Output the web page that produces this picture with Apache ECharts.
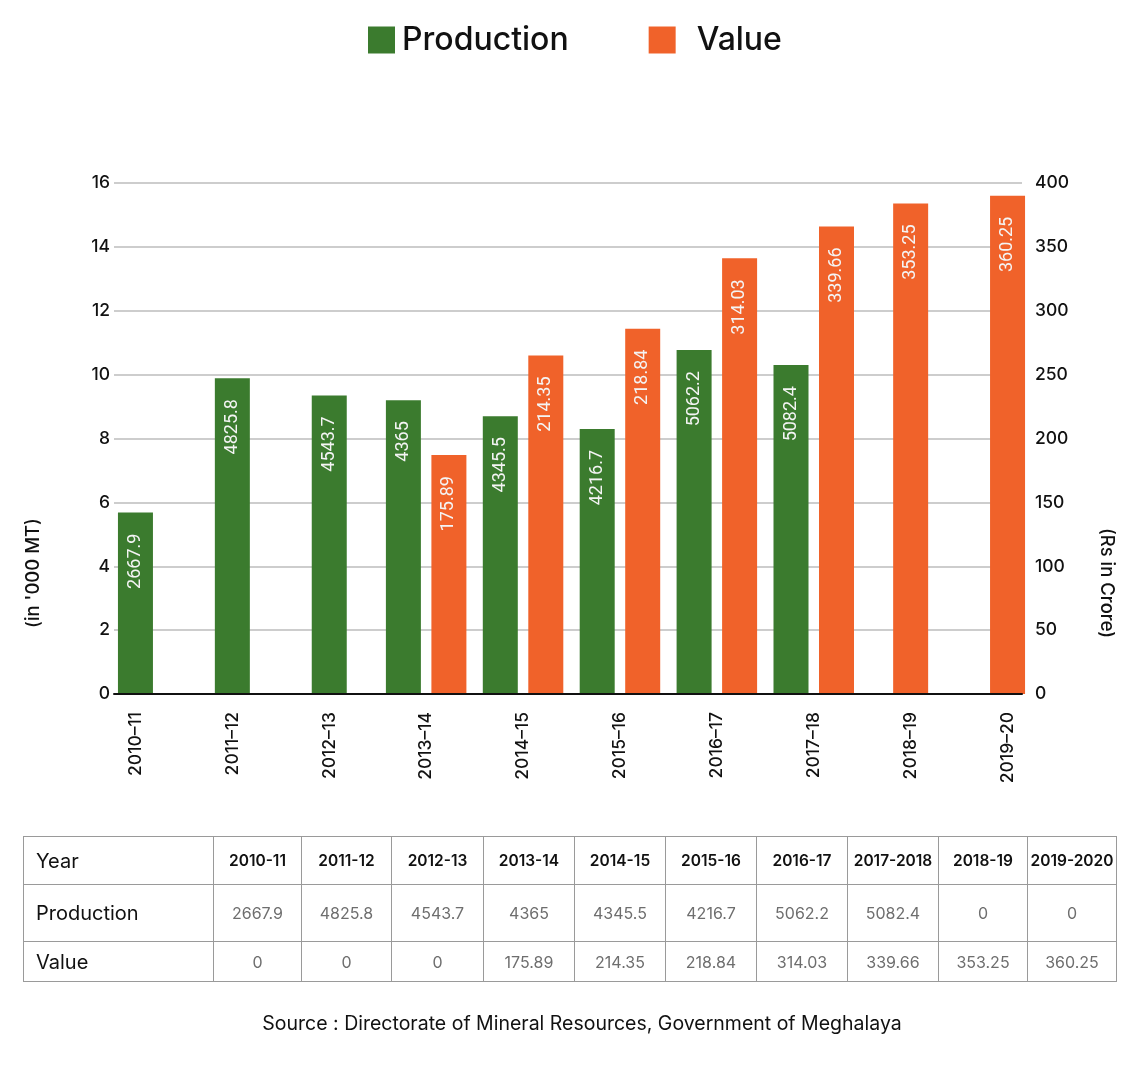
<!DOCTYPE html>
<html>
<head>
<meta charset="utf-8">
<script src="https://cdn.jsdelivr.net/npm/echarts@6.0.0/dist/echarts.min.js"></script>
<style>
  html, body { margin: 0; padding: 0; background: #fff; }
  #wrap { position: relative; width: 1140px; height: 1066px; }
  #chart { position: absolute; left: 0; top: 0; width: 1140px; height: 1066px; }
  #tbl { position: absolute; left: 23px; top: 836px; border-collapse: collapse; font-family: Inter, 'Noto Sans', sans-serif; table-layout: fixed; }
  #tbl td { border: 1px solid #9a9a9a; padding: 0; text-align: center; color: #6e6e6e; font-size: 16px; }
  #tbl td.rowhead { text-align: left; padding-left: 12px; color: #111; font-size: 20px; }
  #tbl tr.hdr td { color: #111; font-weight: 600; font-size: 15.5px; }
  #tbl tr.hdr td.rowhead { font-weight: 400; font-size: 20px; }
</style>
</head>
<body>
<div id="wrap">
  <div id="chart"></div>
  <table id="tbl"></table>
</div>
<script>
// ---- data ----
const categories = ['2010–11', '2011–12', '2012–13', '2013–14', '2014–15', '2015–16', '2016–17', '2017–18', '2018–19', '2019–20'];
const tableYears = ['2010-11', '2011-12', '2012-13', '2013-14', '2014-15', '2015-16', '2016-17', '2017-2018', '2018-19', '2019-2020'];
const productionValues = [2667.9, 4825.8, 4543.7, 4365, 4345.5, 4216.7, 5062.2, 5082.4, 0, 0];
const valueValues = [0, 0, 0, 175.89, 214.35, 218.84, 314.03, 339.66, 353.25, 360.25];
// bar heights as drawn in the picture (left axis for production, right axis for value)
const productionBarHeight = [5.68, 9.89, 9.35, 9.20, 8.70, 8.30, 10.77, 10.30, 0, 0];
const valueBarHeight = [0, 0, 0, 187, 265, 286, 341, 366, 384, 390];
const leftTicks = { min: 0, max: 16, interval: 2 };
const rightTicks = { min: 0, max: 400, interval: 50 };

const FONT = "Inter, 'Noto Sans', sans-serif";
const GREEN = '#3b7b2e';
const ORANGE = '#f0622a';

// ---- table ----
(function buildTable() {
  const widths = [190, 88, 90, 92, 91, 91, 91, 91, 91, 89, 89];
  const tbl = document.getElementById('tbl');
  const cg = document.createElement('colgroup');
  widths.forEach(w => { const c = document.createElement('col'); c.style.width = w + 'px'; cg.appendChild(c); });
  tbl.appendChild(cg);
  const rows = [
    { head: 'Year', cells: tableYears, cls: 'hdr', h: 48 },
    { head: 'Production', cells: productionValues.map(String), cls: '', h: 57 },
    { head: 'Value', cells: valueValues.map(String), cls: '', h: 40 }
  ];
  rows.forEach(r => {
    const tr = document.createElement('tr');
    if (r.cls) tr.className = r.cls;
    tr.style.height = r.h + 'px';
    const th = document.createElement('td');
    th.className = 'rowhead';
    th.textContent = r.head;
    tr.appendChild(th);
    r.cells.forEach(t => { const td = document.createElement('td'); td.textContent = t; tr.appendChild(td); });
    tbl.appendChild(tr);
  });
  tbl.style.width = widths.reduce((a, b) => a + b, 0) + 'px';
})();

// ---- chart ----
const paired = categories.map((c, i) => productionBarHeight[i] > 0 && valueBarHeight[i] > 0);
const pairProd = productionBarHeight.map((v, i) => paired[i] ? v : null);
const pairVal = valueBarHeight.map((v, i) => paired[i] ? v : null);
const soloProd = productionBarHeight.map((v, i) => (!paired[i] && v > 0) ? v : null);
const soloVal = valueBarHeight.map((v, i) => (!paired[i] && v > 0) ? v : null);

function barLabel(texts) {
  return {
    show: true,
    position: 'insideTop',
    rotate: 90,
    align: 'right',
    verticalAlign: 'middle',
    distance: 21,
    color: '#f4f4f4',
    fontSize: 18,
    fontFamily: 'Roboto, sans-serif',
    formatter: p => String(texts[p.dataIndex])
  };
}

const chart = echarts.init(document.getElementById('chart'), null, { renderer: 'canvas' });
chart.setOption({
  animation: false,
  backgroundColor: '#fff',
  textStyle: { fontFamily: FONT },
  legend: {
    left: 363, top: 19,
    itemWidth: 27, itemHeight: 27, itemGap: 80,
    icon: 'rect',
    data: [
      { name: 'Production', textStyle: { padding: [0, 0, 0, 2] } },
      { name: 'Value', textStyle: { padding: [0, 0, 0, 16] } }
    ],
    textStyle: { fontSize: 32, color: '#111', fontFamily: FONT, fontWeight: 500 }
  },
  grid: [
    { left: 87, right: 84, top: 183, bottom: 372 },
    { left: 114, right: 118, top: 183, bottom: 372 }
  ],
  xAxis: [
    {
      type: 'category', gridIndex: 0, data: categories,
      axisLine: { show: false }, axisTick: { show: false },
      axisLabel: { rotate: 90, margin: 18, fontSize: 17.5, fontWeight: 500, color: '#111', fontFamily: FONT }
    },
    { type: 'category', gridIndex: 0, data: categories, show: false },
    {
      type: 'category', gridIndex: 1, data: categories, z: 5,
      axisLine: { show: true, lineStyle: { color: '#111', width: 2 } },
      axisTick: { show: false }, axisLabel: { show: false }
    }
  ],
  yAxis: [
    { type: 'value', gridIndex: 0, min: leftTicks.min, max: leftTicks.max, show: false },
    { type: 'value', gridIndex: 0, min: rightTicks.min, max: rightTicks.max, show: false },
    {
      type: 'value', gridIndex: 1, position: 'left',
      min: leftTicks.min, max: leftTicks.max, interval: leftTicks.interval,
      axisLine: { show: false }, axisTick: { show: false },
      axisLabel: { margin: 4, fontSize: 17.5, fontWeight: 500, color: '#111', fontFamily: FONT },
      splitLine: { show: true, lineStyle: { color: '#bdbdbd', width: 1.5 } }
    },
    {
      type: 'value', gridIndex: 1, position: 'right',
      min: rightTicks.min, max: rightTicks.max, interval: rightTicks.interval,
      axisLine: { show: false }, axisTick: { show: false },
      axisLabel: { margin: 13, fontSize: 17.5, fontWeight: 500, color: '#111', fontFamily: FONT },
      splitLine: { show: false }
    }
  ],
  graphic: [
    {
      type: 'text', x: 33, y: 573, rotation: Math.PI / 2,
      style: { text: "(in '000 MT)", font: "500 18.5px " + FONT, fill: '#111', textAlign: 'center', textVerticalAlign: 'middle' }
    },
    {
      type: 'text', x: 1107, y: 583, rotation: -Math.PI / 2,
      style: { text: '(Rs in Crore)', font: "500 18.5px " + FONT, fill: '#111', textAlign: 'center', textVerticalAlign: 'middle' }
    },
    {
      type: 'text', x: 582, y: 1024,
      style: { text: 'Source : Directorate of Mineral Resources, Government of Meghalaya', font: "19.5px " + FONT, fill: '#111', textAlign: 'center', textVerticalAlign: 'middle' }
    }
  ],
  series: [
    {
      name: 'Production', type: 'bar', xAxisIndex: 0, yAxisIndex: 0,
      data: pairProd, barWidth: 35, barGap: '30%',
      itemStyle: { color: GREEN }, label: barLabel(productionValues)
    },
    {
      name: 'Value', type: 'bar', xAxisIndex: 0, yAxisIndex: 1,
      data: pairVal, barWidth: 35, barGap: '30%',
      itemStyle: { color: ORANGE }, label: barLabel(valueValues)
    },
    {
      name: 'Production', type: 'bar', xAxisIndex: 1, yAxisIndex: 0,
      data: soloProd, barWidth: 35, barGap: '-100%',
      itemStyle: { color: GREEN }, label: barLabel(productionValues)
    },
    {
      name: 'Value', type: 'bar', xAxisIndex: 1, yAxisIndex: 1,
      data: soloVal, barWidth: 35, barGap: '-100%',
      itemStyle: { color: ORANGE }, label: barLabel(valueValues)
    }
  ]
});
</script>
</body>
</html>
